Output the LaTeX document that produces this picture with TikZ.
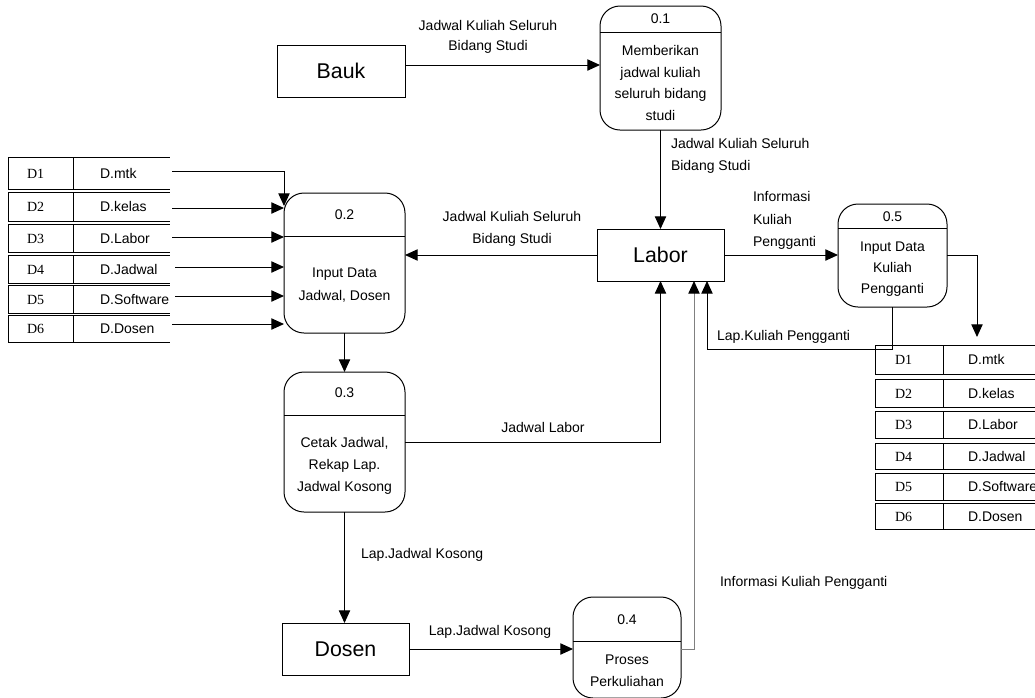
\documentclass[tikz,border=0pt]{standalone}
\usepackage{fontspec}
\setmainfont{Liberation Sans}
\newfontfamily\dserif{Liberation Serif}
\usetikzlibrary{arrows.meta,calc}
\begin{document}
\begin{tikzpicture}[x=0.75pt,y=-0.75pt,
  every node/.style={inner sep=0pt, outer sep=0pt, font=\fontsize{10.5}{13}\selectfont},
  line/.style={draw=black, line width=0.75pt},
  arr/.style={line, -{Triangle[length=9.5pt,width=8.5pt,color=black]}},
  garr/.style={arr, draw=black!50},
  extbox/.style={draw, line width=0.75pt, font=\fontsize{16}{18}\selectfont},
  proc/.style={draw, line width=0.75pt, rounded corners=15pt},
  lblc/.style={align=center},
  lbll/.style={align=left, anchor=west},
]
\path[use as bounding box] (0,0) rectangle (1035,697);

% external entities
\node[extbox, minimum width=96pt, minimum height=39pt] (bauk) at (341,71) {Bauk};
\node[extbox, minimum width=95.25pt, minimum height=39pt] (labor) at (660.5,255) {Labor};
\node[extbox, minimum width=95.25pt, minimum height=39pt] (dosen) at (345.5,649) {Dosen};

% processes
\node[proc, minimum width=90.75pt, minimum height=93pt] (p1) at (660.5,68) {};
\draw[line] (p1.west |- 0,32) -- (p1.east |- 0,32);
\node (p1n) at (660.5,19) {0.1};
\node[lblc, font=\fontsize{10.5}{16.3}\selectfont] (p1t) at (660.5,83) {Memberikan\\jadwal kuliah\\seluruh bidang\\studi};

\node[proc, minimum width=90.75pt, minimum height=105pt] (p2) at (344.5,263) {};
\draw[line] (p2.west |- 0,236) -- (p2.east |- 0,236);
\node (p2n) at (344.5,215) {0.2};
\node[lblc, font=\fontsize{10.5}{17}\selectfont] (p2t) at (344.5,285) {Input Data\\Jadwal, Dosen};

\node[proc, minimum width=90.75pt, minimum height=105pt] (p3) at (344.5,442) {};
\draw[line] (p3.west |- 0,415) -- (p3.east |- 0,415);
\node (p3n) at (344.5,393) {0.3};
\node[lblc, font=\fontsize{10.5}{16.5}\selectfont] (p3t) at (344.5,466) {Cetak Jadwal,\\Rekap Lap.\\Jadwal Kosong};

\node[proc, minimum width=81pt, minimum height=75.75pt] (p4) at (627,647.5) {};
\draw[line] (p4.west |- 0,641) -- (p4.east |- 0,641);
\node (p4n) at (627,620) {0.4};
\node[lblc, font=\fontsize{10.5}{16.5}\selectfont] (p4t) at (627,671) {Proses\\Perkuliahan};

\node[proc, minimum width=81.75pt, minimum height=77.25pt] (p5) at (892.5,255.5) {};
\draw[line] (p5.west |- 0,228) -- (p5.east |- 0,228);
\node (p5n) at (892.5,217) {0.5};
\node[lblc, font=\fontsize{10.5}{15.75}\selectfont] (p5t) at (892.5,269) {Input Data\\Kuliah\\Pengganti};

% left data stores
\foreach \i/\t/\b/\n in {1/157/189/mtk,2/192/221/kelas,3/224/252/Labor,4/255/283/Jadwal,5/285/313/Software,6/315/342/Dosen}{
  \draw[line] (8,\t) rectangle (73,\b);
  \draw[line] (73,\t) -- (170,\t) (73,\b) -- (170,\b);
  \node[anchor=base west] (lsd\i) at (27,{(\t+\b)/2+5}) {\dserif D\i};
  \node[anchor=base west] (lsn\i) at (100,{(\t+\b)/2+5}) {D.\n};
  \coordinate (lse\i) at (172,{(\t+\b)/2});
}
% right data stores
\foreach \i/\t/\b/\n in {1/345/374/mtk,2/379/407/kelas,3/411/438/Labor,4/443/469/Jadwal,5/473/500/Software,6/503/529/Dosen}{
  \draw[line] (875,\t) rectangle (943,\b);
  \draw[line] (943,\t) -- (1040,\t) (943,\b) -- (1040,\b);
  \node[anchor=base west] (rsd\i) at (895,{(\t+\b)/2+5}) {\dserif D\i};
  \node[anchor=base west] (rsn\i) at (968,{(\t+\b)/2+5}) {D.\n};
}
\coordinate (t5) at (977,337);

% connectors
\draw[arr] (bauk.east |- 0,65) -- (p1.west |- 0,65);
\draw[arr] (p1.south) -- (labor.north);
\draw[arr] (labor.west) -- (p2.east |- labor.west);
\draw[arr] (labor.east) -- (p5.west |- labor.east);
\draw[arr] (p5.east |- 0,255) -| (t5);
\draw[arr] (p5.south) |- ($(labor.south)+(46.5,68)$) -- ($(labor.south)+(46.5,0)$);
\draw[arr] (p3.east |- 0,442) -| (labor.south);
\draw[garr] (p4.east |- 0,649) -| ($(labor.south)+(33.5,0)$);
\draw[arr] (p2.south) -- (p3.north);
\draw[arr] (p3.south) -- (p3.south |- dosen.north);
\draw[arr] (dosen.east) -- (p4.west |- dosen.east);

\draw[arr] (lse1 |- 0,171) -| (p2.west |- 0,206);
\draw[arr] (lse2 |- 0,208) -- (p2.west |- 0,208);
\draw[arr] (lse3 |- 0,237) -- (p2.west |- 0,237);
\draw[arr] ([xshift=2.25pt]lse4 |- 0,267) -- (p2.west |- 0,267);
\draw[arr] ([xshift=2.25pt]lse5 |- 0,296) -- (p2.west |- 0,296);
\draw[arr] (lse6 |- 0,324) -- (p2.west |- 0,324);

% labels
\node[lblc, font=\fontsize{10.5}{15}\selectfont] (l1) at (488,37) {Jadwal Kuliah Seluruh\\Bidang Studi};
\node[lbll, font=\fontsize{10.5}{16.5}\selectfont] (l2) at (671,156) {Jadwal Kuliah Seluruh\\Bidang Studi};
\node[lblc, font=\fontsize{10.5}{16.5}\selectfont] (l3) at (512,229) {Jadwal Kuliah Seluruh\\Bidang Studi};
\node[lbll, font=\fontsize{10.5}{17}\selectfont] (l4) at (753,220.5) {Informasi\\Kuliah\\Pengganti};
\node[lbll] (l5) at (717,337) {Lap.Kuliah Pengganti};
\node (l6) at (543,427) {Jadwal Labor};
\node[lbll] (l7) at (361,555) {Lap.Jadwal Kosong};
\node (l8) at (490,632) {Lap.Jadwal Kosong};
\node[lbll] (l9) at (720,583) {Informasi Kuliah Pengganti};
\end{tikzpicture}
\end{document}
